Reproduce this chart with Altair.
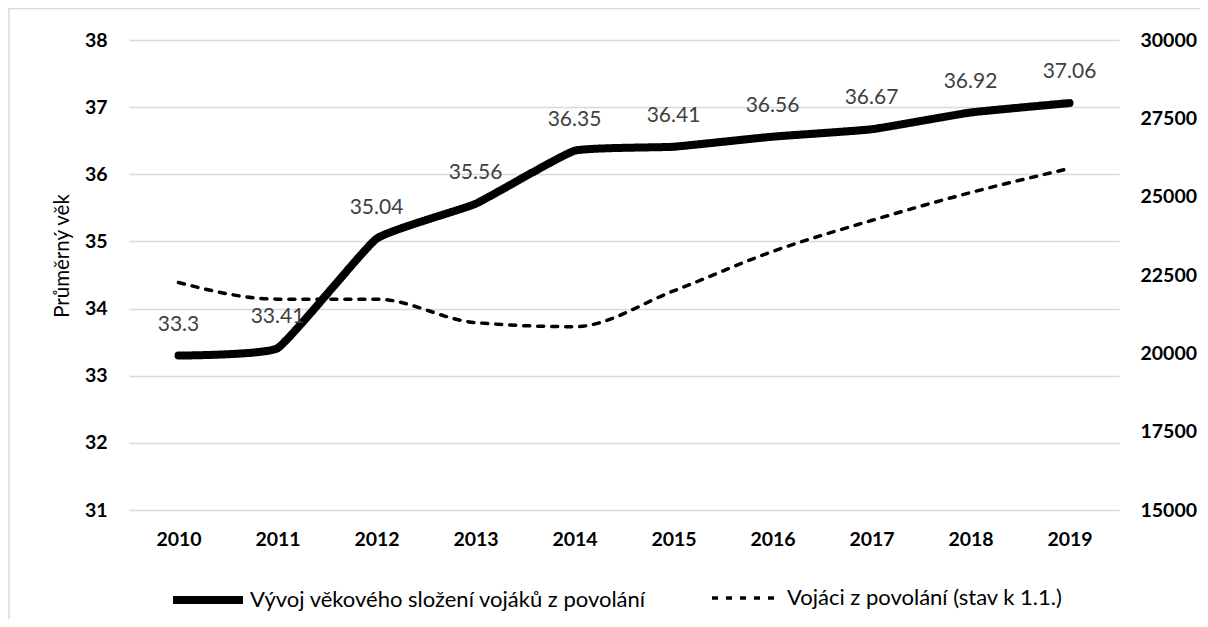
import altair as alt
import pandas as pd

years = ["2010", "2011", "2012", "2013", "2014", "2015", "2016", "2017", "2018", "2019"]
avg_age = [33.3, 33.41, 35.04, 35.56, 36.35, 36.41, 36.56, 36.67, 36.92, 37.06]
soldiers = [22260, 21730, 21730, 20980, 20850, 21990, 23250, 24240, 25130, 25900]
series_age = "Vývoj věkového složení vojáků z povolání"
series_count = "Vojáci z povolání (stav k 1.1.)"
left_ticks = [31, 32, 33, 34, 35, 36, 37, 38]
right_ticks = [15000, 17500, 20000, 22500, 25000, 27500, 30000]
y_title = "Průměrný věk"

FONT = "Lato"
W, H = 990, 470

df_age = pd.DataFrame({"rok": years, "vek": avg_age, "serie": series_age,
                       "popis": [str(v) for v in avg_age]})
df_count = pd.DataFrame({"rok": years, "pocet": soldiers, "serie": series_count})

x_enc = alt.X("rok:N", sort=years, scale=alt.Scale(type="point", padding=0.5),
              axis=alt.Axis(title=None, labelFont=FONT, labelFontWeight="bold",
                            labelFontSize=19.5, labelColor="black", labelPadding=20,
                            ticks=False, domain=False, grid=False, labelAngle=0))

y_age = alt.Y("vek:Q", scale=alt.Scale(domain=[31, 38], nice=False, zero=False),
              axis=alt.Axis(values=left_ticks, format="d", title=None,
                            labelFont=FONT, labelFontWeight="bold", labelFontSize=19.5,
                            labelColor="black", labelPadding=22, ticks=False, domain=False,
                            grid=True, gridColor="#d9d9d9", gridWidth=1.5))

legend_common = dict(title=None, orient="none", symbolType="stroke", symbolSize=4900,
                     symbolStrokeColor="black", labelFont=FONT, labelFontSize=22,
                     labelColor="black", labelOffset=3, padding=0, labelLimit=600)

age_line = alt.Chart(df_age).mark_line(
    color="black", strokeWidth=8, strokeCap="round", strokeJoin="round",
    interpolate="cardinal", tension=0.65
).encode(
    x=x_enc,
    y=y_age,
    strokeDash=alt.StrokeDash(
        "serie:N",
        scale=alt.Scale(domain=[series_age], range=[[1, 0]]),
        legend=alt.Legend(legendX=40, legendY=521, symbolStrokeWidth=8, **legend_common),
    ),
)

age_labels = alt.Chart(df_age).mark_text(
    dy=-31, font=FONT, fontSize=21, color="#404040", align="center", baseline="middle"
).encode(x=x_enc, y=y_age, text="popis:N")

age_layer = alt.layer(age_line, age_labels)

count_line = alt.Chart(df_count).mark_line(
    color="black", strokeWidth=3.5, strokeCap="round", interpolate="monotone"
).encode(
    x=x_enc,
    y=alt.Y("pocet:Q", scale=alt.Scale(domain=[15000, 30000], nice=False, zero=False),
            axis=alt.Axis(orient="right", values=right_ticks, format="d", title=None,
                          labelFont=FONT, labelFontWeight="bold", labelFontSize=19.5,
                          labelColor="black", labelPadding=21, ticks=False, domain=False,
                          grid=False)),
    strokeDash=alt.StrokeDash(
        "serie:N",
        scale=alt.Scale(domain=[series_count], range=[[6, 8]]),
        legend=alt.Legend(legendX=581, legendY=521, symbolStrokeWidth=3.5, **legend_common),
    ),
)

title_mark = alt.Chart(pd.DataFrame({"t": [y_title]})).mark_text(
    font=FONT, fontSize=20.5, color="black", angle=270, align="center", baseline="middle"
).encode(x=alt.value(-66), y=alt.value(216), text="t:N")

border = alt.Chart(pd.DataFrame({"a": [0]})).mark_rect(
    fill="transparent", stroke="#d9d9d9", strokeWidth=1.5
).encode(x=alt.value(-120), x2=alt.value(1300), y=alt.value(-31.5), y2=alt.value(800))

chart = alt.layer(age_layer, count_line, title_mark, border).resolve_scale(
    y="independent", strokeDash="independent"
).resolve_legend(strokeDash="independent").properties(
    width=W, height=H,
    autosize=alt.AutoSizeParams(type="none"),
    padding={"left": 121, "top": 32, "right": 81, "bottom": 109},
    background="white",
).configure_view(stroke=None)

chart.save("out.html", embed_options={"renderer": "svg", "actions": False})
